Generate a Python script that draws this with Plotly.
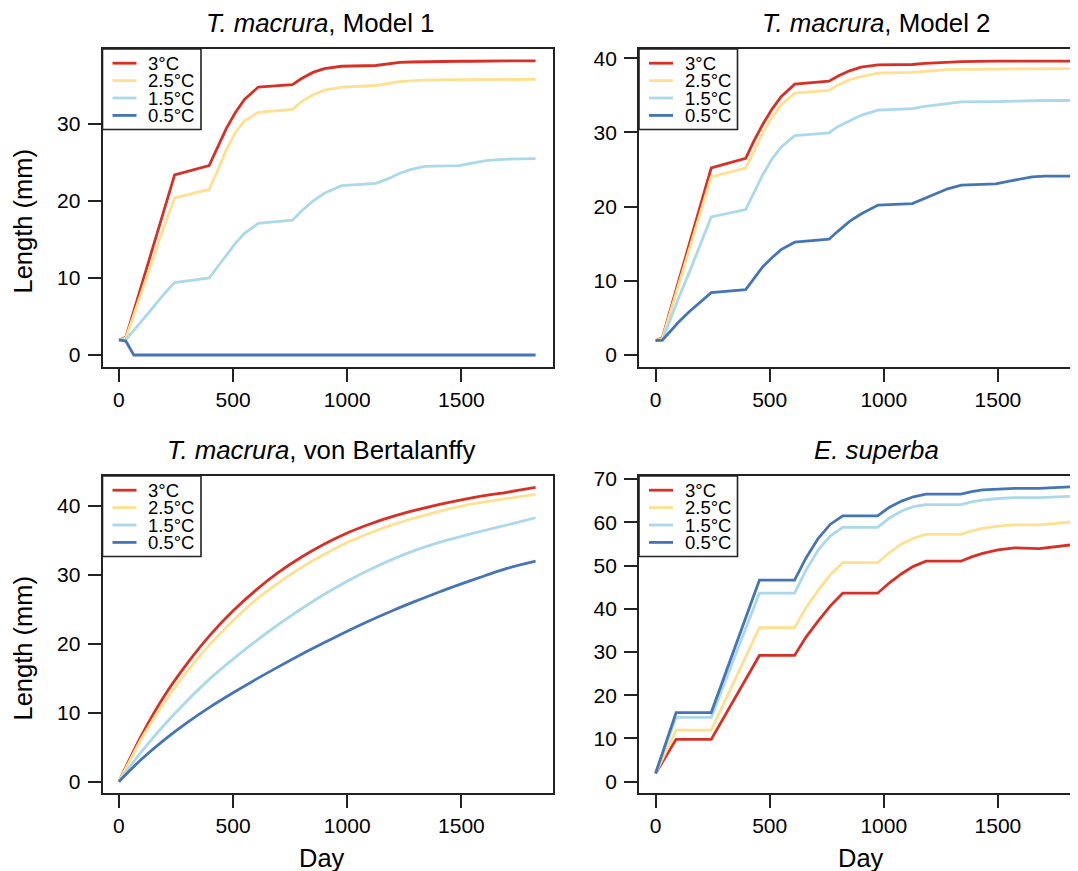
import plotly.graph_objects as go

# page body has an 8px margin: the figure is drawn 8px right/down of the window corner
OFF = 8
W, H = 1078 - OFF, 871 - OFF

temps = ["3°C", "2.5°C", "1.5°C", "0.5°C"]
colors = ["#D73027", "#FEE090", "#ABD9E9", "#4575B4"]

# ---- T. macrura Model 1 / Model 2 (shared day grid) ----
days_tm = [0, 30, 65, 100, 150, 200, 244, 395, 430, 470, 510, 550, 610, 760, 800, 850, 900, 975,
           1125, 1180, 1230, 1280, 1340, 1490, 1545, 1600, 1650, 1705, 1825]

m1_30 = [1.95, 2.3, 5.7, 9.2, 14.1, 19.0, 23.4, 24.6, 26.9, 29.4, 31.5, 33.2, 34.8, 35.1, 35.9, 36.7, 37.2, 37.5,
         37.6, 37.8, 38.0, 38.05, 38.1, 38.15, 38.15, 38.2, 38.2, 38.2, 38.2]
m1_25 = [1.95, 2.2, 5.2, 8.3, 12.6, 16.9, 20.4, 21.5, 23.8, 26.6, 28.9, 30.4, 31.5, 31.9, 32.9, 33.8, 34.4, 34.8,
         35.0, 35.3, 35.5, 35.6, 35.7, 35.75, 35.75, 35.8, 35.8, 35.8, 35.8]
m1_15 = [1.95, 2.0, 3.2, 4.4, 6.2, 8.0, 9.4, 10.0, 11.4, 13.0, 14.5, 15.8, 17.1, 17.5, 18.7, 20.0, 21.0, 22.0,
         22.3, 22.9, 23.6, 24.1, 24.5, 24.6, 24.9, 25.2, 25.35, 25.45, 25.5]
m1_05 = [1.95, 1.8, 0.0, 0.0, 0.0, 0.0, 0.0, 0.0, 0.0, 0.0, 0.0, 0.0, 0.0, 0.0, 0.0, 0.0, 0.0, 0.0,
         0.0, 0.0, 0.0, 0.0, 0.0, 0.0, 0.0, 0.0, 0.0, 0.0, 0.0]

m2_30 = [1.93, 2.3, 6.1, 9.9, 15.2, 20.6, 25.2, 26.5, 28.8, 31.1, 33.1, 34.8, 36.5, 36.9, 37.6, 38.3, 38.8, 39.1,
         39.15, 39.3, 39.4, 39.5, 39.55, 39.6, 39.6, 39.6, 39.6, 39.6, 39.6]
m2_25 = [1.93, 2.2, 5.8, 9.3, 14.3, 19.6, 24.0, 25.2, 27.5, 30.0, 32.0, 33.7, 35.3, 35.65, 36.4, 37.1, 37.5, 38.0,
         38.1, 38.25, 38.35, 38.45, 38.5, 38.55, 38.55, 38.6, 38.6, 38.6, 38.6]
m2_15 = [1.93, 2.0, 4.8, 7.6, 11.3, 15.2, 18.6, 19.6, 21.8, 24.3, 26.4, 28.0, 29.55, 29.95, 30.8, 31.6, 32.3, 33.0,
         33.2, 33.5, 33.7, 33.9, 34.1, 34.15, 34.2, 34.25, 34.3, 34.3, 34.3]
m2_05 = [1.93, 2.0, 3.2, 4.4, 5.9, 7.2, 8.4, 8.8, 10.3, 11.9, 13.1, 14.2, 15.2, 15.6, 16.7, 18.0, 19.0, 20.2,
         20.4, 21.1, 21.8, 22.4, 22.9, 23.05, 23.4, 23.75, 24.0, 24.1, 24.1]

# ---- T. macrura von Bertalanffy ----
days_vb = [0, 50, 100, 200, 300, 400, 500, 600, 700, 800, 900, 1000, 1100, 1200, 1300, 1400, 1500, 1600, 1700, 1825]
vb_30 = [0.0, 3.5, 6.8, 12.5, 17.2, 21.3, 24.8, 27.8, 30.4, 32.6, 34.5, 36.1, 37.4, 38.5, 39.4, 40.2, 40.9, 41.5, 42.0, 42.7]
vb_25 = [0.0, 3.2, 6.3, 11.6, 16.1, 20.0, 23.4, 26.4, 28.9, 31.1, 33.0, 34.7, 36.1, 37.3, 38.3, 39.2, 40.0, 40.6, 41.1, 41.7]
vb_15 = [0.0, 2.25, 4.4, 8.3, 11.8, 15.0, 17.8, 20.4, 22.85, 25.1, 27.2, 29.1, 30.8, 32.3, 33.6, 34.7, 35.6, 36.45, 37.25, 38.3]
vb_05 = [0.0, 1.7, 3.3, 6.1, 8.6, 10.85, 12.9, 14.85, 16.7, 18.5, 20.2, 21.85, 23.4, 24.85, 26.2, 27.5, 28.7, 29.85, 30.95, 32.0]

# ---- E. superba ----
days_es = [0, 90, 244, 455, 609, 660, 713, 765, 820, 973, 1025, 1078, 1130, 1185, 1338, 1385, 1433, 1500, 1572, 1681, 1825]
es_30 = [1.9, 9.8, 9.8, 29.2, 29.2, 33.5, 37.2, 40.6, 43.6, 43.6, 46.0, 48.1, 49.8, 51.0, 51.0, 52.0, 52.8, 53.6, 54.1, 53.9, 54.8]
es_25 = [1.9, 11.95, 11.95, 35.6, 35.6, 40.3, 44.3, 47.8, 50.65, 50.65, 53.0, 55.0, 56.3, 57.2, 57.2, 58.0, 58.6, 59.1, 59.4, 59.4, 60.1]
es_15 = [1.9, 14.9, 14.9, 43.6, 43.6, 49.0, 53.6, 56.8, 58.8, 58.8, 61.0, 62.6, 63.6, 64.1, 64.1, 64.7, 65.1, 65.5, 65.7, 65.7, 66.0]
es_05 = [1.9, 16.0, 16.0, 46.6, 46.6, 51.8, 56.3, 59.5, 61.5, 61.5, 63.5, 64.9, 65.9, 66.5, 66.5, 67.1, 67.5, 67.7, 67.85, 67.85, 68.2]

x_ticks = [0, 500, 1000, 1500]

panels = [
    dict(title="<i>T. macrura</i>, Model 1", days=days_tm, series=[m1_30, m1_25, m1_15, m1_05],
         yticks=[0, 10, 20, 30], xr=[-72, 1900], yr=[-1.52, 39.74],
         box=(102.5, 552.7, 49, 366.7), right=True, shape="linear", tpos=(320, 23.5)),
    dict(title="<i>T. macrura</i>, Model 2", days=days_tm, series=[m2_30, m2_25, m2_15, m2_05],
         yticks=[0, 10, 20, 30, 40], xr=[-72.5, 1851], yr=[-1.58, 41.24],
         box=(639, 1078, 49, 366.7), right=False, shape="linear", tpos=(876, 23.5)),
    dict(title="<i>T. macrura</i>, von Bertalanffy", days=days_vb, series=[vb_30, vb_25, vb_15, vb_05],
         yticks=[0, 10, 20, 30, 40], xr=[-72, 1900], yr=[-1.68, 44.36],
         box=(102.5, 552.7, 476, 793.3), right=True, shape="spline", tpos=(321, 450)),
    dict(title="<i>E. superba</i>", days=days_es, series=[es_30, es_25, es_15, es_05],
         yticks=[0, 10, 20, 30, 40, 50, 60, 70], xr=[-72.5, 1851], yr=[-2.68, 70.7],
         box=(639, 1078, 476, 793.3), right=False, shape="linear", tpos=(876, 450)),
]

FONT = "Liberation Sans, Arial, Helvetica, sans-serif"
AX = "#222222"


def fx(p):
    # screen pixel (from window left) -> paper fraction
    return (p - OFF) / W


def fy(p):
    # screen pixel (from window top) -> paper fraction
    return 1 - (p - OFF) / H


fig = go.Figure()
shapes = []
annotations = []
layout = {}

for i, p in enumerate(panels):
    n = "" if i == 0 else str(i + 1)
    xa, ya = "x" + n, "y" + n
    x0, x1, y0, y1 = p["box"]
    for vals, name, col in zip(p["series"], temps, colors):
        line = dict(color=col, width=2.8, shape=p["shape"])
        if p["shape"] == "spline":
            line["smoothing"] = 0.9
        fig.add_trace(go.Scatter(x=p["days"], y=vals, mode="lines", name=name, line=line,
                                 xaxis=xa, yaxis=ya, showlegend=False, hoverinfo="skip"))
    layout["xaxis" + n] = dict(domain=[fx(x0), min(1.0, fx(x1))], range=p["xr"], anchor=ya,
                               tickvals=x_ticks, ticks="outside", ticklen=13, tickwidth=1.5,
                               tickcolor=AX, showline=True, linecolor=AX, linewidth=1.8, mirror=True,
                               showgrid=False, zeroline=False, automargin=False,
                               tickfont=dict(family=FONT, size=21, color="black"),
                               ticklabelstandoff=0)
    layout["yaxis" + n] = dict(domain=[fy(y1), fy(y0)], range=p["yr"], anchor=xa,
                               tickvals=p["yticks"], ticks="outside", ticklen=13, tickwidth=1.5,
                               tickcolor=AX, showline=True, linecolor=AX, linewidth=1.8,
                               mirror=p["right"], showgrid=False, zeroline=False, automargin=False,
                               tickfont=dict(family=FONT, size=21, color="black"),
                               ticklabelstandoff=3)
    # title
    annotations.append(dict(text=p["title"], x=fx(p["tpos"][0]), y=fy(p["tpos"][1]), xref="paper",
                            yref="paper", xanchor="center", yanchor="middle", showarrow=False,
                            font=dict(family=FONT, size=25.8, color="black")))
    # legend (R style box at the top-left corner of each panel)
    lx0, ly0 = x0, y0
    shapes.append(dict(type="rect", xref="paper", yref="paper", x0=fx(lx0), x1=fx(lx0 + 98.5),
                       y0=fy(ly0 + 80.5), y1=fy(ly0), fillcolor="white",
                       line=dict(color=AX, width=1.6), layer="above"))
    for k, (name, col) in enumerate(zip(temps, colors)):
        yy = ly0 + 14.2 + 17.4 * k
        shapes.append(dict(type="line", xref="paper", yref="paper", x0=fx(lx0 + 10), x1=fx(lx0 + 34),
                           y0=fy(yy), y1=fy(yy), line=dict(color=col, width=2.8), layer="above"))
        annotations.append(dict(text=name, x=fx(lx0 + 43.5), y=fy(yy), xref="paper", yref="paper",
                                xanchor="left", yanchor="middle", showarrow=False,
                                font=dict(family=FONT, size=18.5, color="black")))

# axis titles
for yc in (221, 648):
    annotations.append(dict(text="Length (mm)", x=fx(22.5), y=fy(yc), xref="paper", yref="paper",
                            xanchor="center", yanchor="middle", textangle=-90, showarrow=False,
                            font=dict(family=FONT, size=25.5, color="black")))
for xc in (322, 861):
    annotations.append(dict(text="Day", x=fx(xc), y=fy(858), xref="paper", yref="paper",
                            xanchor="center", yanchor="middle", showarrow=False,
                            font=dict(family=FONT, size=25.5, color="black")))

fig.update_layout(width=W, height=H, margin=dict(l=0, r=0, t=0, b=0),
                  paper_bgcolor="white", plot_bgcolor="white", showlegend=False,
                  shapes=shapes, annotations=annotations, **layout)

fig.write_html("out.html")
